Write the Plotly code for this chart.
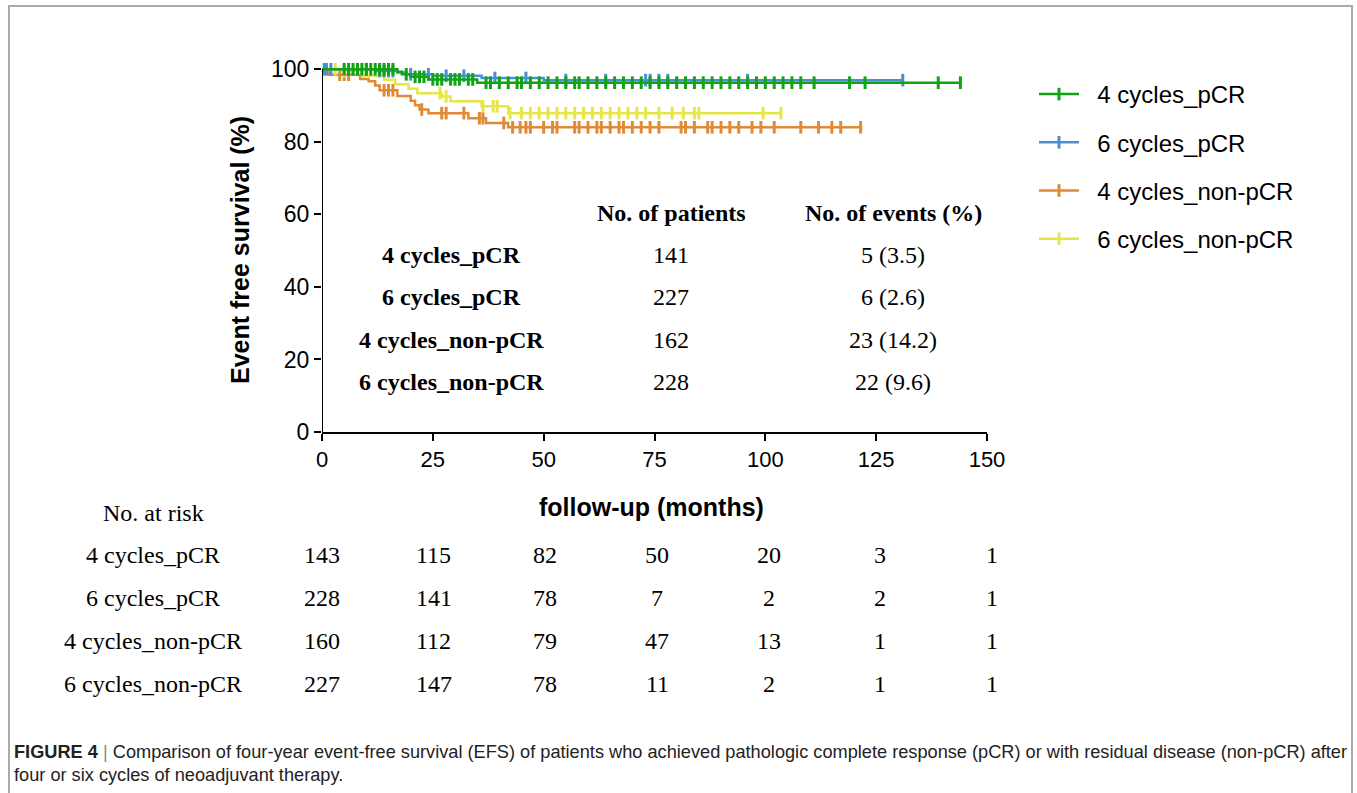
import plotly.graph_objects as go

# ---------------- data ----------------
groups = ["4 cycles_pCR", "6 cycles_pCR", "4 cycles_non-pCR", "6 cycles_non-pCR"]
colors = ["#12a312", "#4a8fd6", "#e08a38", "#e6e64a"]

# step curves: event times (months) and survival (%) after each step; last entry = end of follow-up
green_t = [0, 17, 18, 20, 24, 35, 144]
green_s = [100, 99.3, 98.6, 97.9, 97.2, 96.3, 96.3]
blue_t = [0, 12, 17, 19, 25, 36, 50, 131]
blue_s = [100, 99.5, 99.1, 98.6, 98.2, 97.6, 97.0, 97.0]
orange_t = [0, 1.5, 8.6, 10.5, 12, 13, 17, 20, 21, 22, 24, 33, 37, 42, 121.5]
orange_s = [100, 98.5, 97.3, 96.7, 95.5, 94.2, 92.6, 91.3, 90.1, 88.9, 87.9, 86.5, 85.2, 84.0, 84.0]
yellow_t = [0, 5, 9, 14, 16.5, 19.5, 21.5, 27, 29, 36, 42, 103.5]
yellow_s = [100, 99.5, 98.2, 97.1, 95.9, 94.6, 93.4, 92.5, 91.2, 89.8, 87.9, 87.9]

# censored observations (months)
green_cens = [5, 6, 7, 8, 9, 10, 11, 12, 13, 14, 15, 16, 19, 21, 22, 23, 25, 26, 27, 29, 30, 31, 33,
              34, 37, 38, 40, 42, 44, 45, 47, 49, 51, 53, 55, 57, 58, 60, 62, 64, 66, 68, 70, 72, 74,
              76, 78, 80, 82, 84, 86, 88, 90, 92, 94, 96, 98, 100, 102, 104, 106, 108, 111, 119,
              122.5, 139, 144]
blue_cens = [0.5, 1, 2, 10, 13, 14, 15, 16, 20, 24, 28, 32, 39, 46, 55, 64, 73, 74, 76, 78, 96, 131]
orange_cens = [4, 5, 6, 14, 15, 16, 22.5, 27, 28, 32, 35.5, 36.3, 41, 43, 44.7, 46, 47, 50, 52, 53,
               57, 58, 60, 62, 63, 65, 67, 68, 70, 72, 74, 76, 81, 82, 84, 87, 88, 90, 92, 94, 97,
               99, 102, 108, 112, 115, 117, 121.5]
yellow_cens = [3, 5, 26.6, 28, 36.3, 38.6, 39.5, 42.4, 45, 47, 49, 51, 53, 55, 57, 59, 61, 63, 65,
               67, 69, 71, 73, 76, 79, 81.5, 84, 85, 99.5, 103.5]

# summary table
n_patients = [141, 227, 162, 228]
n_events = ["5 (3.5)", "6 (2.6)", "23 (14.2)", "22 (9.6)"]

# number at risk
risk_times = [0, 25, 50, 75, 100, 125, 150]
risk_4pcr = [143, 115, 82, 50, 20, 3, 1]
risk_6pcr = [228, 141, 78, 7, 2, 2, 1]
risk_4npcr = [160, 112, 79, 47, 13, 1, 1]
risk_6npcr = [227, 147, 78, 11, 2, 1, 1]

x_ticks = [0, 25, 50, 75, 100, 125, 150]
y_ticks = [0, 20, 40, 60, 80, 100]

caption_1 = ("<b>FIGURE 4</b> <span style='color:#888'>|</span> Comparison of four-year event-free survival (EFS) "
             "of patients who achieved pathologic complete response (pCR) or with residual disease (non-pCR) after")
caption_2 = "four or six cycles of neoadjuvant therapy."

# ---------------- layout geometry ----------------
W, H = 1357, 793
L, R, T, B = 322, 370, 62, 361


def px(xp):
    return (xp - L) / (W - L - R)


def py(yp):
    return (H - B - yp) / (H - T - B)


def surv_at(t, times, surv):
    s = surv[0]
    for ti, si in zip(times, surv):
        if ti <= t:
            s = si
    return s


curves = [
    (green_t, green_s, green_cens),
    (blue_t, blue_s, blue_cens),
    (orange_t, orange_s, orange_cens),
    (yellow_t, yellow_s, yellow_cens),
]

fig = go.Figure()

draw_order = [2, 3, 1, 0]
for i in draw_order:
    t, s, c = curves[i]
    fig.add_trace(go.Scatter(x=t, y=s, mode="lines", line=dict(color=colors[i], width=2.5, shape="hv"),
                             showlegend=False, hoverinfo="skip"))
    fig.add_trace(go.Scatter(x=c, y=[surv_at(v, t, s) for v in c], mode="markers",
                             marker=dict(symbol="line-ns", size=9, color=colors[i],
                                         line=dict(width=3, color=colors[i])),
                             showlegend=False, hoverinfo="skip", cliponaxis=False))

NB = "\u00a0\u00a0"
for i, g in enumerate(groups):
    fig.add_trace(go.Scatter(x=[None], y=[None], mode="lines+markers", name=NB + g, legendgroup=g,
                             line=dict(color=colors[i], width=2.5),
                             marker=dict(symbol="line-ns", size=9, color=colors[i],
                                         line=dict(width=3, color=colors[i]))))

# y-axis line (only up to 100)
fig.add_shape(type="line", xref="x", yref="y", x0=0, x1=0, y0=0, y1=100,
              line=dict(color="black", width=2))
# figure frame
fig.add_shape(type="rect", xref="paper", yref="paper", x0=px(9), x1=px(1352), y0=py(6), y1=py(820),
              line=dict(color="#aaaaaa", width=2), layer="below")

ann = []
serif = "Liberation Serif, Times New Roman, serif"
sans = "Liberation Sans, Arial, sans-serif"


def add_text(text, xp, yp, size, family, xanchor="center", bold=False, color="black"):
    ann.append(dict(text=("<b>%s</b>" % text) if bold else text, x=px(xp), y=py(yp), xref="paper",
                    yref="paper", xanchor=xanchor, yanchor="middle", showarrow=False,
                    font=dict(size=size, family=family, color=color)))


# axis titles
add_text("Event free survival (%)", 240, 250, 25, sans, bold=True)
ann[-1]["textangle"] = -90
add_text("follow-up (months)", 651, 507, 25, sans, bold=True)

# summary table inside the plot
add_text("No. of patients", 671, 213, 24, serif, bold=True)
add_text("No. of events (%)", 893, 213, 24, serif, bold=True)
row_y = [255, 297, 340, 382]
for g, n, e, yy in zip(groups, n_patients, n_events, row_y):
    add_text(g, 451, yy, 24, serif, bold=True)
    add_text(str(n), 671, yy, 24, serif)
    add_text(e, 893, yy, 24, serif)

# number at risk table
add_text("No. at risk", 153, 513, 24, serif)
risk_rows = [risk_4pcr, risk_6pcr, risk_4npcr, risk_6npcr]
risk_y = [555, 598, 641, 684]
for g, vals, yy in zip(groups, risk_rows, risk_y):
    add_text(g, 153, yy, 24, serif)
    for tt, v in zip(risk_times, vals):
        ann.append(dict(text=str(v), x=tt, y=py(yy), xref="x", yref="paper", xanchor="center",
                        yanchor="middle", showarrow=False, xshift=tt / 30,
                        font=dict(size=24, family=serif, color="black")))

# caption
add_text(caption_1, 12, 752, 18.2, sans, xanchor="left", color="#222222")
add_text(caption_2, 12, 775, 18.2, sans, xanchor="left", color="#222222")

fig.update_layout(
    width=W, height=H, autosize=False,
    margin=dict(l=L, r=R, t=T, b=B),
    paper_bgcolor="white", plot_bgcolor="white",
    showlegend=True,
    legend=dict(x=px(1034), y=py(72), xanchor="left", yanchor="top", font=dict(size=24, family=sans, color="black"),
                traceorder="grouped", tracegroupgap=14, bgcolor="rgba(0,0,0,0)", itemwidth=40),
    annotations=ann,
    xaxis=dict(range=[0, 150], tickvals=x_ticks, ticks="outside", ticklen=7, tickwidth=2, tickcolor="black",
               showline=True, linecolor="black", linewidth=2, showgrid=False, zeroline=False,
               tickfont=dict(size=22, family=sans, color="black")),
    yaxis=dict(range=[0, 102], tickvals=y_ticks, ticks="outside", ticklen=7, tickwidth=2, tickcolor="black",
               showline=False, showgrid=False, zeroline=False,
               tickfont=dict(size=23, family=sans, color="black")),
)

fig.write_html("out.html", config={"displayModeBar": False},
               post_script="document.body.style.margin='0';")
